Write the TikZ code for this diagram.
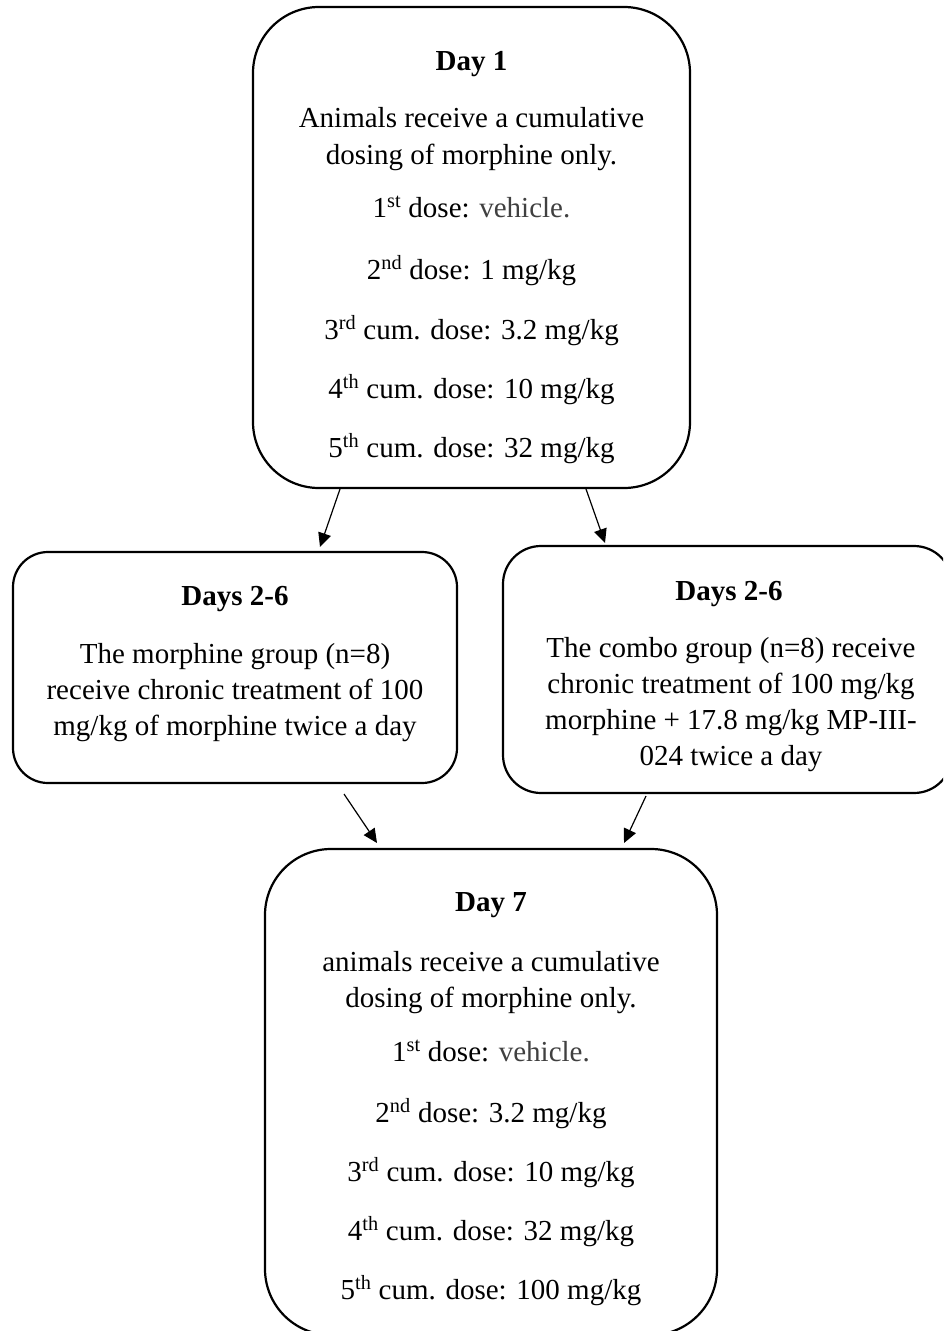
\documentclass[tikz,border=0pt]{standalone}
\usepackage{fontspec}
\setmainfont{Liberation Serif}
\usetikzlibrary{arrows.meta}
\definecolor{vehgray}{HTML}{404040}
\begin{document}
\begin{tikzpicture}[x=1pt,y=-1pt,
  box/.style={draw=black, line width=2.2pt, rectangle, inner sep=0pt, outer sep=0pt},
  arr/.style={line width=1.2pt, -{Triangle[length=14pt,width=13pt]}},
  txt/.style={anchor=base, inner sep=0pt, font=\fontsize{29}{35}\selectfont},
  hd/.style={anchor=base, inner sep=0pt, font=\fontsize{29}{35}\selectfont\bfseries}]
\useasboundingbox (0,0) rectangle (943,1331);
\fill[white] (0,0) rectangle (943,1331);
\clip (0,0) rectangle (943,1331);

% boxes
\node[box, minimum width=437pt, minimum height=481pt, rounded corners=66pt] (day1) at (471.5,247.5) {};
\node[box, minimum width=444pt, minimum height=231pt, rounded corners=35pt] (left) at (235,667.5) {};
\node[box, minimum width=449pt, minimum height=247pt, rounded corners=38pt] (right) at (727.5,669.5) {};
\node[box, minimum width=452pt, minimum height=486pt, rounded corners=66pt] (day7) at (491,1092) {};

% Day 1 text
\node[hd]  (d1h) at (471.5,70)  {Day 1};
\node[txt] (d1a) at (471.5,127) {Animals receive a cumulative};
\node[txt] (d1b) at (471.5,164) {dosing of morphine only.};
\node[txt] (d1c) at (471.5,217) {1\textsuperscript{st} dose: \textcolor{vehgray}{vehicle.}};
\node[txt] (d1d) at (471.5,279) {2\textsuperscript{nd} dose: 1 mg/kg};
\node[txt] (d1e) at (471.5,339) {3\textsuperscript{rd} cum. dose: 3.2 mg/kg};
\node[txt] (d1f) at (471.5,398) {4\textsuperscript{th} cum. dose: 10 mg/kg};
\node[txt] (d1g) at (471.5,457) {5\textsuperscript{th} cum. dose: 32 mg/kg};

% Left box text
\node[hd]  (lh) at (235,605) {Days 2-6};
\node[txt] (la) at (235,663) {The morphine group (n=8)};
\node[txt] (lb) at (235,699) {receive chronic treatment of 100};
\node[txt] (lc) at (235,735) {mg/kg of morphine twice a day};

% Right box text
\node[hd]  (rh) at (729,600) {Days 2-6};
\node[txt] (ra) at (731,657) {The combo group (n=8) receive};
\node[txt] (rb) at (731,693) {chronic treatment of 100 mg/kg};
\node[txt] (rc) at (731,729) {morphine + 17.8 mg/kg MP-III-};
\node[txt] (rd) at (731,765) {024 twice a day};

% Day 7 text
\node[hd]  (d7h) at (491,911)  {Day 7};
\node[txt] (d7a) at (491,971)  {animals receive a cumulative};
\node[txt] (d7b) at (491,1007) {dosing of morphine only.};
\node[txt] (d7c) at (491,1061) {1\textsuperscript{st} dose: \textcolor{vehgray}{vehicle.}};
\node[txt] (d7d) at (491,1122) {2\textsuperscript{nd} dose: 3.2 mg/kg};
\node[txt] (d7e) at (491,1181) {3\textsuperscript{rd} cum. dose: 10 mg/kg};
\node[txt] (d7f) at (491,1240) {4\textsuperscript{th} cum. dose: 32 mg/kg};
\node[txt] (d7g) at (491,1299) {5\textsuperscript{th} cum. dose: 100 mg/kg};

% arrows
\draw[arr] ([xshift=-131.5pt,yshift=-1pt]day1.south) -- ([xshift=85pt,yshift=5pt]left.north);
\draw[arr] ([xshift=114.5pt,yshift=-1pt]day1.south) -- ([xshift=-122.5pt,yshift=3pt]right.north);
\draw[arr] ([xshift=109pt,yshift=-11pt]left.south) -- ([xshift=-114pt,yshift=6pt]day7.north);
\draw[arr] ([xshift=-81.5pt,yshift=-3pt]right.south) -- ([xshift=133pt,yshift=6pt]day7.north);
\end{tikzpicture}
\end{document}
